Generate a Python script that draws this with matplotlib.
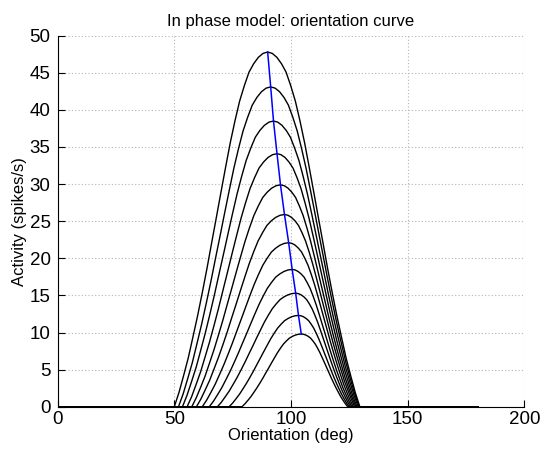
import matplotlib
matplotlib.use("Agg")
import matplotlib.pyplot as plt

plt.rcParams['font.family'] = ['Liberation Sans', 'DejaVu Sans']

# ---- data ----
x_ticks = [0, 50, 100, 150, 200]
y_ticks = [0, 5, 10, 15, 20, 25, 30, 35, 40, 45, 50]
domain_x = [0, 180]          # every curve spans 0..180 deg (zero outside the bump)

peak_x = [90.0, 91.3, 92.5, 94.0, 95.5, 97.2, 99.0, 100.5, 102.0, 103.2, 104.4]
peak_y = [47.8, 43.1, 38.5, 34.1, 29.9, 25.9, 22.1, 18.5, 15.3, 12.3, 9.8]

# activity levels going outward from each peak (same levels on both flanks)
levels_y = [
    [47.61, 47.08, 46.22, 45.08, 43.26, 41.20, 38.53, 35.61, 32.31, 28.92, 25.48, 22.08, 18.64, 15.39, 12.28, 9.42, 6.60, 4.21, 1.91, 0.0],
    [42.93, 42.45, 41.68, 40.64, 39.01, 37.15, 34.74, 32.11, 29.14, 26.08, 22.97, 19.91, 16.81, 13.88, 11.08, 8.49, 5.95, 3.79, 1.72, 0.0],
    [38.35, 37.92, 37.23, 36.31, 34.84, 33.19, 31.03, 28.68, 26.03, 23.29, 20.52, 17.79, 15.02, 12.40, 9.89, 7.58, 5.31, 3.39, 1.54, 0.0],
    [33.96, 33.59, 32.97, 32.16, 30.86, 29.39, 27.48, 25.40, 23.05, 20.63, 18.18, 15.75, 13.30, 10.98, 8.76, 6.72, 4.71, 3.00, 1.36, 0.0],
    [29.78, 29.45, 28.91, 28.20, 27.06, 25.77, 24.10, 22.28, 20.21, 18.09, 15.94, 13.81, 11.66, 9.63, 7.68, 5.89, 4.13, 2.63, 1.20, 0.0],
    [25.80, 25.51, 25.05, 24.42, 23.44, 22.33, 20.88, 19.30, 17.51, 15.67, 13.80, 11.97, 10.10, 8.34, 6.66, 5.10, 3.57, 2.28, 1.04, 0.0],
    [22.01, 21.77, 21.37, 20.84, 20.00, 19.05, 17.81, 16.46, 14.94, 13.37, 11.78, 10.21, 8.62, 7.12, 5.68, 4.35, 3.05, 1.94, 0.88, 0.0],
    [18.43, 18.22, 17.89, 17.45, 16.74, 15.95, 14.91, 13.78, 12.51, 11.19, 9.86, 8.55, 7.22, 5.96, 4.75, 3.64, 2.55, 1.63, 0.74, 0.0],
    [15.24, 15.07, 14.80, 14.43, 13.85, 13.19, 12.33, 11.40, 10.34, 9.26, 8.15, 7.07, 5.97, 4.93, 3.93, 3.01, 2.11, 1.35, 0.61, 0.0],
    [12.25, 12.12, 11.89, 11.60, 11.13, 10.60, 9.91, 9.16, 8.31, 7.44, 6.56, 5.68, 4.80, 3.96, 3.16, 2.42, 1.70, 1.08, 0.49, 0.0],
    [9.76, 9.65, 9.48, 9.24, 8.87, 8.45, 7.90, 7.30, 6.62, 5.93, 5.22, 4.53, 3.82, 3.16, 2.52, 1.93, 1.35, 0.86, 0.39, 0.0],
]
# orientations on the rising (left) flank, outward from the peak
left_x = [
    [88.0, 86.0, 84.0, 82.0, 80.0, 78.0, 76.0, 74.0, 72.0, 70.0, 68.0, 66.0, 64.0, 62.0, 60.0, 58.0, 56.0, 54.0, 52.0, 50.0],
    [89.33, 87.35, 85.38, 83.4, 81.43, 79.45, 77.48, 75.5, 73.53, 71.55, 69.58, 67.6, 65.63, 63.65, 61.68, 59.7, 57.73, 55.75, 53.78, 51.8],
    [90.55, 88.6, 86.65, 84.7, 82.75, 80.8, 78.85, 76.9, 74.95, 73.0, 71.05, 69.1, 67.15, 65.2, 63.25, 61.3, 59.35, 57.4, 55.45, 53.5],
    [92.08, 90.15, 88.23, 86.3, 84.38, 82.45, 80.53, 78.6, 76.68, 74.75, 72.83, 70.9, 68.98, 67.05, 65.13, 63.2, 61.28, 59.35, 57.43, 55.5],
    [93.6, 91.7, 89.8, 87.9, 86.0, 84.1, 82.2, 80.3, 78.4, 76.5, 74.6, 72.7, 70.8, 68.9, 67.0, 65.1, 63.2, 61.3, 59.4, 57.5],
    [95.32, 93.43, 91.55, 89.66, 87.78, 85.89, 84.01, 82.12, 80.24, 78.35, 76.47, 74.58, 72.7, 70.81, 68.93, 67.04, 65.16, 63.27, 61.39, 59.5],
    [97.15, 95.3, 93.45, 91.6, 89.75, 87.9, 86.05, 84.2, 82.35, 80.5, 78.65, 76.8, 74.95, 73.1, 71.25, 69.4, 67.55, 65.7, 63.85, 62.0],
    [98.73, 96.95, 95.18, 93.4, 91.63, 89.85, 88.08, 86.3, 84.53, 82.75, 80.98, 79.2, 77.43, 75.65, 73.88, 72.1, 70.33, 68.55, 66.78, 65.0],
    [100.33, 98.65, 96.98, 95.3, 93.63, 91.95, 90.28, 88.6, 86.93, 85.25, 83.58, 81.9, 80.23, 78.55, 76.88, 75.2, 73.53, 71.85, 70.18, 68.5],
    [101.72, 100.23, 98.75, 97.26, 95.78, 94.29, 92.81, 91.32, 89.84, 88.35, 86.87, 85.38, 83.9, 82.41, 80.93, 79.44, 77.96, 76.47, 74.99, 73.5],
    [103.13, 101.86, 100.59, 99.32, 98.05, 96.78, 95.51, 94.24, 92.97, 91.7, 90.43, 89.16, 87.89, 86.62, 85.35, 84.08, 82.81, 81.54, 80.27, 79.0],
]
# orientations on the falling (right) flank, outward from the peak
right_x = [
    [91.98, 93.95, 95.93, 97.9, 99.88, 101.85, 103.83, 105.8, 107.78, 109.75, 111.73, 113.7, 115.68, 117.65, 119.63, 121.6, 123.58, 125.55, 127.53, 129.5],
    [93.2, 95.09, 96.99, 98.88, 100.78, 102.67, 104.57, 106.46, 108.36, 110.25, 112.15, 114.04, 115.94, 117.83, 119.73, 121.62, 123.52, 125.41, 127.31, 129.2],
    [94.32, 96.13, 97.95, 99.76, 101.58, 103.39, 105.21, 107.02, 108.84, 110.65, 112.47, 114.28, 116.1, 117.91, 119.73, 121.54, 123.36, 125.17, 126.99, 128.8],
    [95.72, 97.43, 99.15, 100.86, 102.58, 104.29, 106.01, 107.72, 109.44, 111.15, 112.87, 114.58, 116.3, 118.01, 119.73, 121.44, 123.16, 124.87, 126.59, 128.3],
    [97.12, 98.73, 100.35, 101.96, 103.58, 105.19, 106.81, 108.42, 110.04, 111.65, 113.27, 114.88, 116.5, 118.11, 119.73, 121.34, 122.96, 124.57, 126.19, 127.8],
    [98.71, 100.21, 101.72, 103.22, 104.73, 106.23, 107.74, 109.24, 110.75, 112.25, 113.76, 115.26, 116.77, 118.27, 119.78, 121.28, 122.79, 124.29, 125.8, 127.3],
    [100.39, 101.77, 103.16, 104.54, 105.93, 107.31, 108.7, 110.08, 111.47, 112.85, 114.24, 115.62, 117.01, 118.39, 119.78, 121.16, 122.55, 123.93, 125.32, 126.7],
    [101.78, 103.06, 104.34, 105.62, 106.9, 108.18, 109.46, 110.74, 112.02, 113.3, 114.58, 115.86, 117.14, 118.42, 119.7, 120.98, 122.26, 123.54, 124.82, 126.1],
    [103.18, 104.35, 105.53, 106.7, 107.88, 109.05, 110.23, 111.4, 112.58, 113.75, 114.93, 116.1, 117.28, 118.45, 119.63, 120.8, 121.98, 123.15, 124.33, 125.5],
    [104.29, 105.37, 106.46, 107.54, 108.63, 109.71, 110.8, 111.88, 112.97, 114.05, 115.14, 116.22, 117.31, 118.39, 119.48, 120.56, 121.65, 122.73, 123.82, 124.9],
    [105.4, 106.39, 107.39, 108.38, 109.38, 110.37, 111.37, 112.36, 113.36, 114.35, 115.35, 116.34, 117.34, 118.33, 119.33, 120.32, 121.32, 122.31, 123.31, 124.3],
]

title = "In phase model: orientation curve"
xlabel = "Orientation (deg)"
ylabel = "Activity (spikes/s)"

# ---- figure ----
fig = plt.figure(figsize=(5.47, 4.5), dpi=100)
ax = fig.add_axes([0.1053, 0.0962, 0.8534, 0.8245])

for k in range(len(peak_x)):
    xs = [domain_x[0]] + left_x[k][::-1] + [peak_x[k]] + right_x[k] + [domain_x[1]]
    ys = [0.0] + levels_y[k][::-1] + [peak_y[k]] + levels_y[k] + [0.0]
    ax.plot(xs, ys, color='black', lw=1.0, solid_joinstyle='round', zorder=3)

ax.plot(peak_x, peak_y, color='#0000ff', lw=1.1, zorder=4)

ax.set_xlim(0, 200)
ax.set_ylim(0, 50)
ax.set_xticks(x_ticks)
ax.set_yticks(y_ticks)
ax.grid(True, color='#b4b4b4', linestyle=(0, (1, 2)), lw=0.8)
ax.set_axisbelow(True)
for side in ('top', 'right'):
    ax.spines[side].set_visible(False)
for side in ('left', 'bottom'):
    ax.spines[side].set_linewidth(0.8)
    ax.spines[side].set_zorder(5)
ax.tick_params(direction='in', length=5, width=0.8, labelsize=13.5)
ax.tick_params(axis='y', pad=5)
ax.tick_params(axis='x', pad=3)

ax.set_title(title, fontsize=12, pad=7)
ax.set_xlabel(xlabel, fontsize=12, labelpad=0)
ax.set_ylabel(ylabel, fontsize=12, labelpad=2)

fig.savefig("out.png", dpi=100, facecolor='white')
